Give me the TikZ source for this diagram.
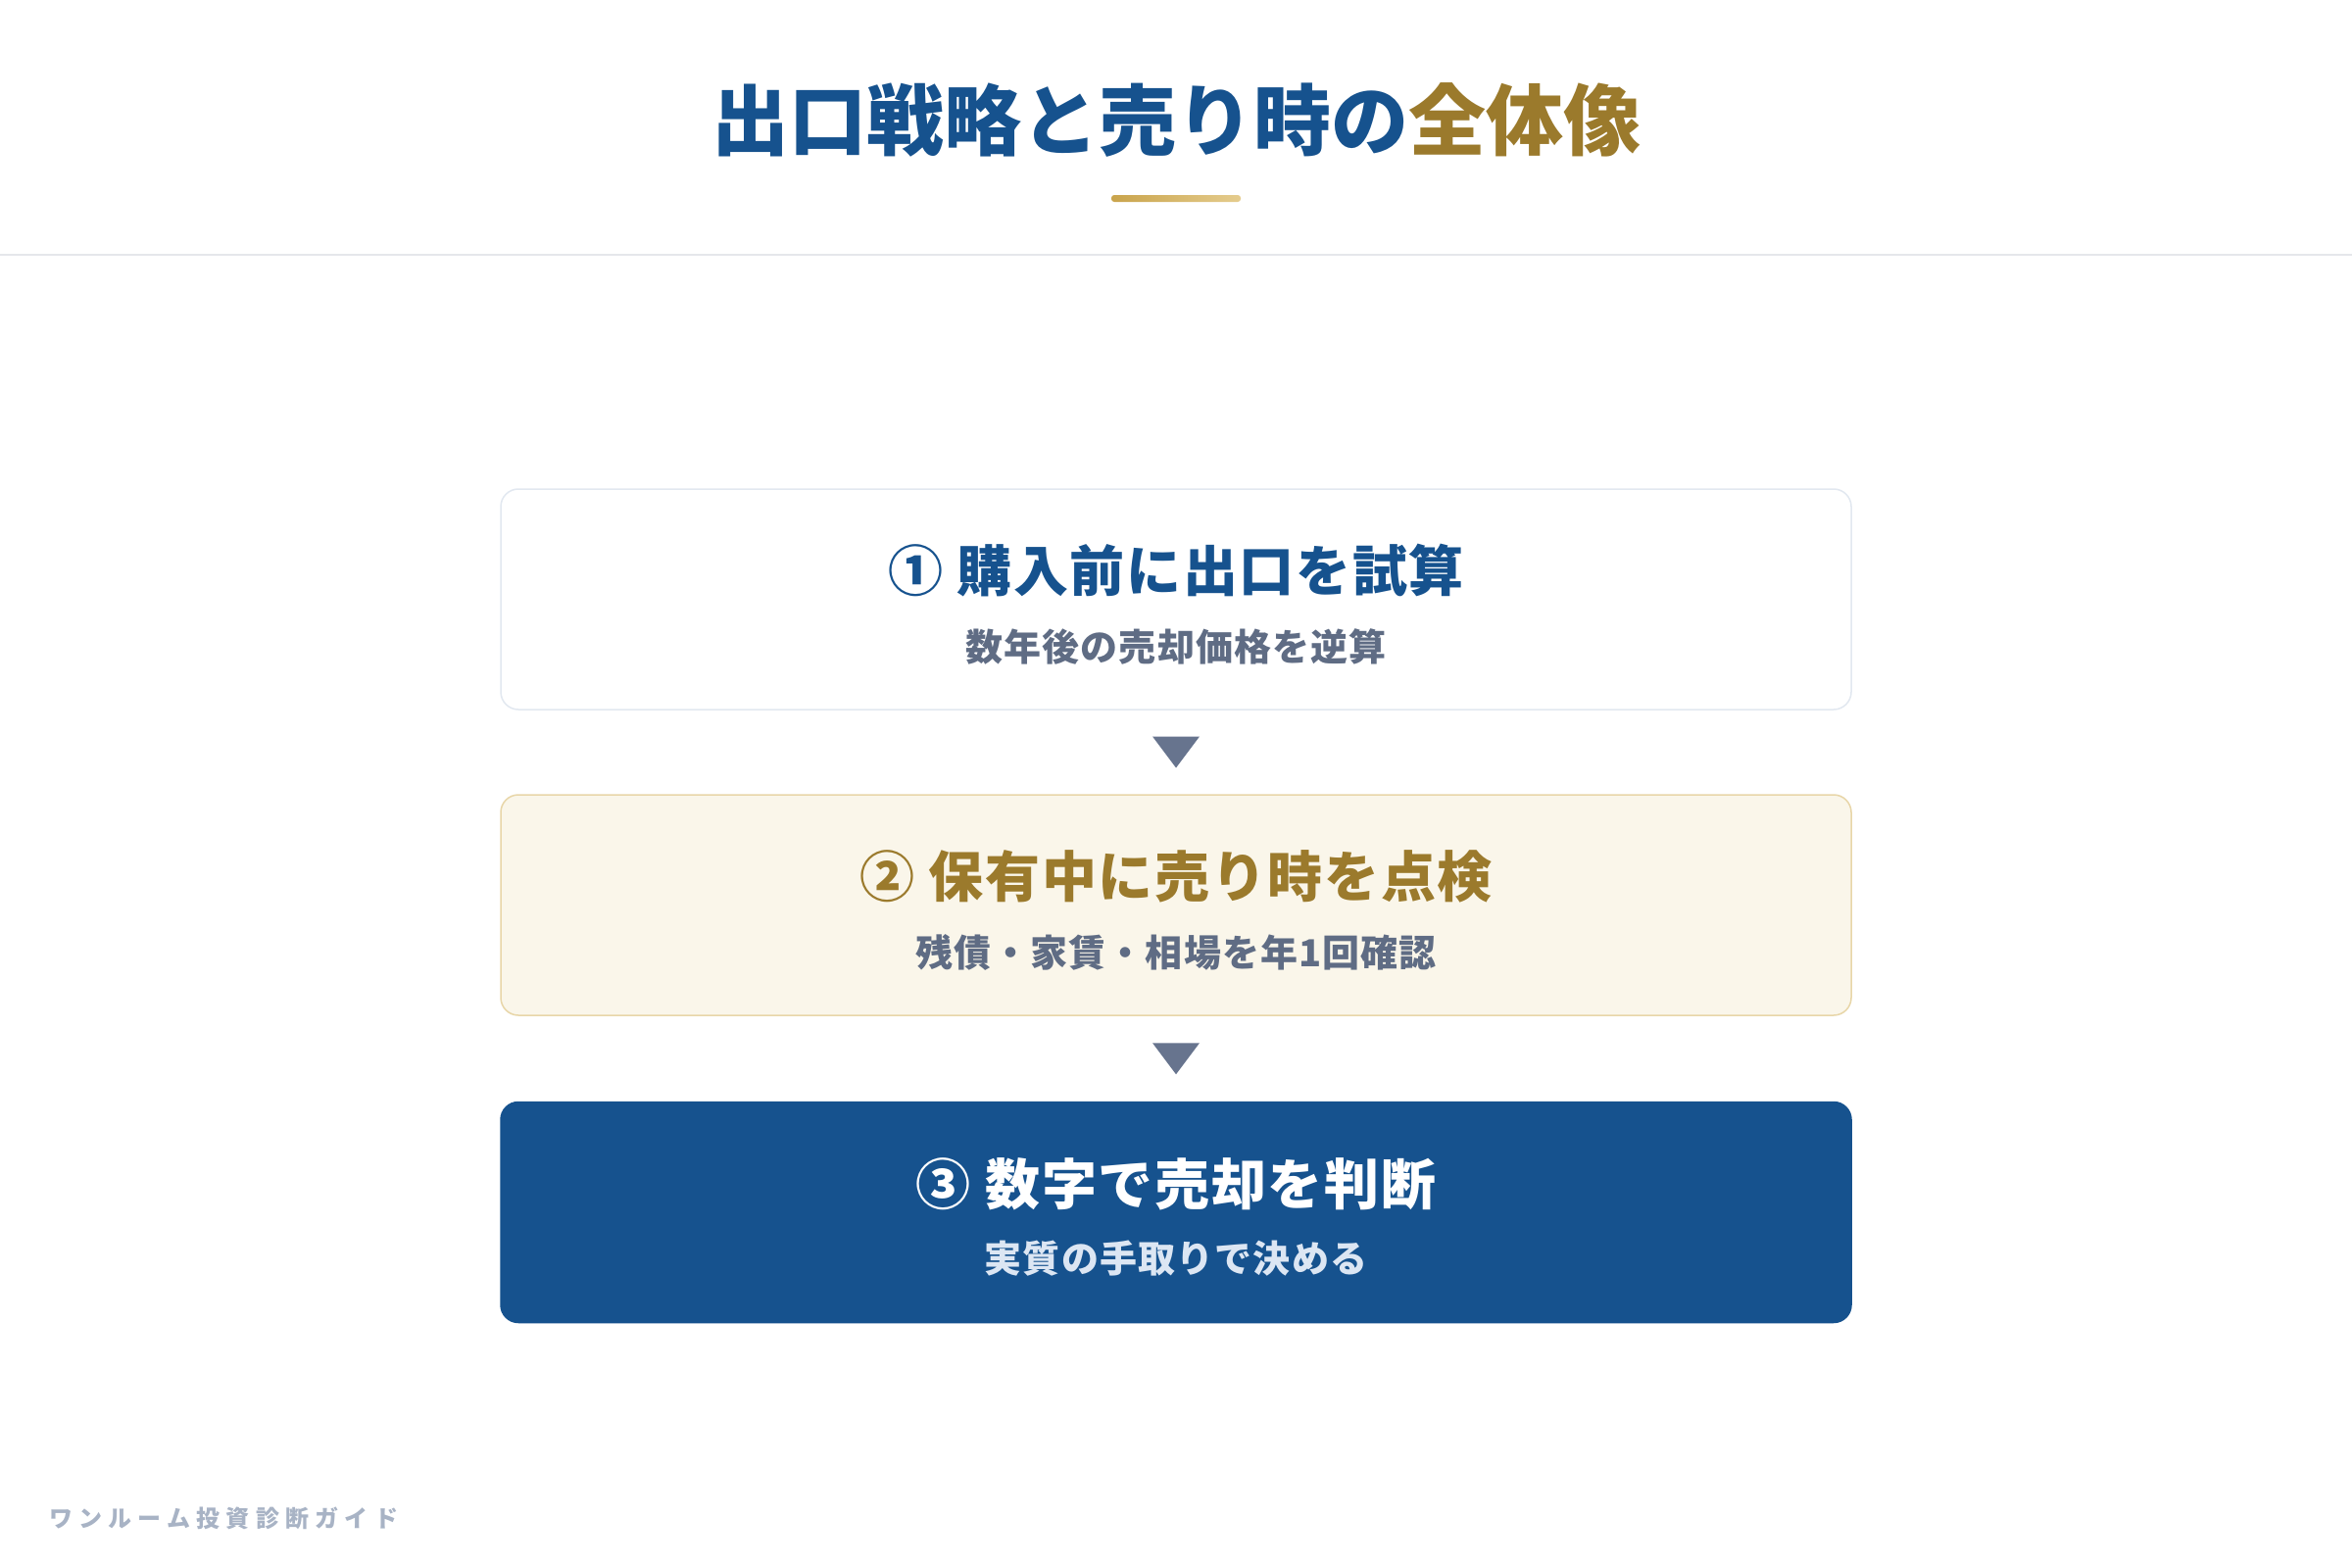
\documentclass[tikz,border=0pt]{standalone}
\usepackage{fontspec}
\usetikzlibrary{calc}
\newfontfamily\jptitle{Noto Sans CJK JP}
\newfontfamily\jphead{Noto Sans CJK JP}[LetterSpace=3]
\newfontfamily\jpsub{Noto Sans CJK JP}[LetterSpace=3]
\newfontfamily\jpfoot{Noto Sans CJK JP}[LetterSpace=26]
\definecolor{navy}{HTML}{16528E}
\definecolor{gold}{HTML}{9B7A2C}
\definecolor{slate}{HTML}{5F6C84}
\definecolor{arrowc}{HTML}{67748E}
\definecolor{sepc}{HTML}{E5E7EB}
\definecolor{boxborder}{HTML}{E2E8F0}
\definecolor{creamfill}{HTML}{FAF6EA}
\definecolor{creamborder}{HTML}{E8D6A8}
\definecolor{footc}{HTML}{A8B3C5}
\definecolor{lightsub}{HTML}{DCE6F3}
\definecolor{goldA}{HTML}{C9A44C}
\definecolor{goldB}{HTML}{E5CC8E}
\tikzset{
  stepbox/.style={rounded corners=18pt, minimum width=1378pt, minimum height=225pt, inner sep=0pt, line width=1.5pt},
  headtext/.style={inner sep=0pt, font=\jphead\bfseries\fontsize{56pt}{62pt}\selectfont},
  subtext/.style={inner sep=0pt, font=\jpsub\bfseries\fontsize{38pt}{44pt}\selectfont},
}
\begin{document}
\begin{tikzpicture}[x=1pt,y=-1pt]
\useasboundingbox (0,0) rectangle (2400,1600);
\fill[white] (0,0) rectangle (2400,1600);
% title
\node[inner sep=0pt, font=\jptitle\bfseries\fontsize{79pt}{89pt}\selectfont] (title) at (1200,122)
  {\textcolor{navy}{出口戦略と売り時の}\textcolor{gold}{全体像}};
\shade[left color=goldA, right color=goldB, rounded corners=3pt] (1134,199) rectangle (1266,206);
\draw[sepc, line width=1.5pt] (0,260) -- (2400,260);
% boxes
\node[stepbox, draw=boxborder, fill=white] (b1) at (1200,611.5) {};
\node[stepbox, draw=creamborder, fill=creamfill] (b2) at (1200,923.5) {};
\node[stepbox, draw=navy, fill=navy] (b3) at (1200,1237) {};
% texts
\node[headtext, text=navy] (t1) at ($(b1.center)+(0,-29)$) {① 購入前に出口を試算};
\node[subtext, text=slate] (s1) at ($(b1.center)+(0,48)$) {数年後の売却価格を逆算};
\node[headtext, text=gold] (t2) at ($(b2.center)+(0,-29)$) {② 保有中に売り時を点検};
\node[subtext, text=slate] (s2) at ($(b2.center)+(0,48)$) {残債・家賃・相場を年1回確認};
\node[headtext, text=white] (t3) at ($(b3.center)+(0,-29)$) {③ 数字で売却を判断};
\node[subtext, text=lightsub] (s3) at ($(b3.center)+(0,47)$) {実質の手取りで決める};
% arrows
\path (b1.south) -- (b2.north) coordinate[midway] (m1);
\path (b2.south) -- (b3.north) coordinate[midway] (m2);
\fill[arrowc] ($(m1)+(-24,-16)$) -- ($(m1)+(24,-16)$) -- ($(m1)+(0,16)$) -- cycle;
\fill[arrowc] ($(m2)+(-24,-16)$) -- ($(m2)+(24,-16)$) -- ($(m2)+(0,16)$) -- cycle;
% footer
\node[anchor=west, inner sep=0pt, text=footc, font=\jpfoot\bfseries\fontsize{24pt}{28pt}\selectfont] (foot) at (50,1549) {ワンルーム投資診断ガイド};
\end{tikzpicture}
\end{document}
